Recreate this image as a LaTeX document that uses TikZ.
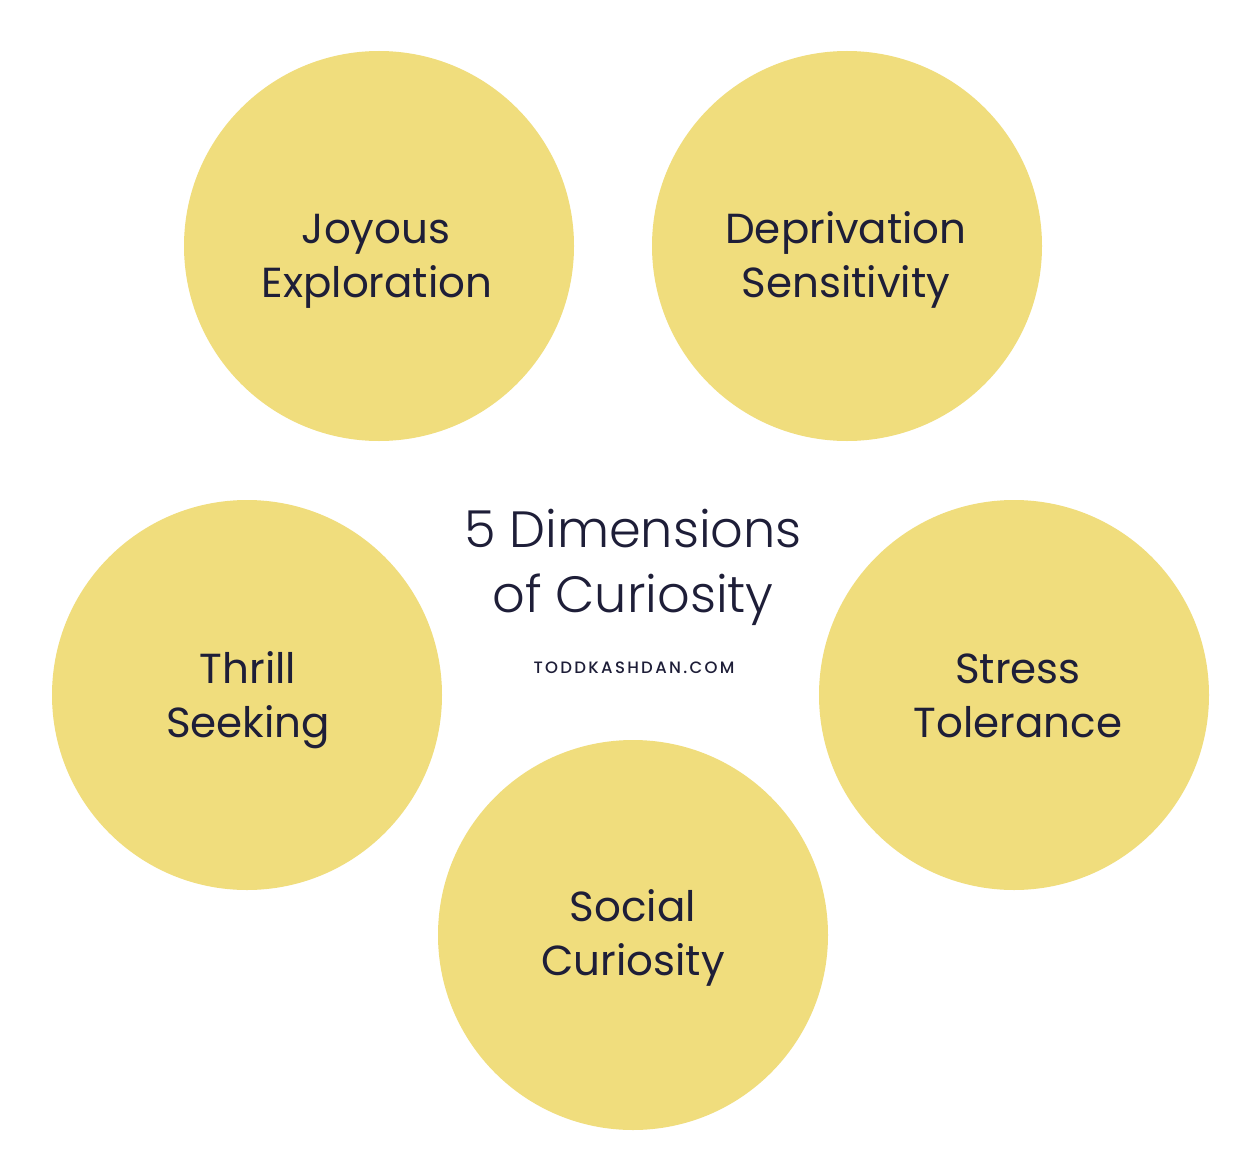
\documentclass[tikz,border=0pt]{standalone}
\usepackage{fontspec}
\setmainfont{Poppins}
\newfontfamily\titlefont{Poppins Light}
\newfontfamily\sitefont[LetterSpace=14]{Poppins Medium}
\definecolor{disc}{HTML}{F0DD7D}
\definecolor{ink}{HTML}{1E1E38}
\begin{document}
\begin{tikzpicture}[x=1pt,y=-1pt,
  dimdisc/.style={circle,fill=disc,draw=none,minimum size=390pt,inner sep=0pt},
  lbl/.style={anchor=base,text=ink,font=\fontsize{42}{50}\selectfont,inner sep=0pt},
  ttl/.style={anchor=base,text=ink,font=\titlefont\fontsize{51}{60}\selectfont,inner sep=0pt},
  web/.style={anchor=base,text=ink,font=\sitefont\fontsize{16.5}{20}\selectfont,inner sep=0pt}]
\useasboundingbox[fill=white] (0,0) rectangle (1245,1156);
\node[dimdisc] (joy) at (379,246) {};
\node[dimdisc] (dep) at (847,246) {};
\node[dimdisc] (thr) at (247,695) {};
\node[dimdisc] (str) at (1014,695) {};
\node[dimdisc] (soc) at (633,935) {};
\node[lbl] (joy1) at (376,243) {Joyous};
\node[lbl] (joy2) at (377,297) {Exploration};
\node[lbl] (dep1) at (846,243) {Deprivation};
\node[lbl] (dep2) at (846,297) {Sensitivity};
\node[lbl] (thr1) at (248,683) {Thrill};
\node[lbl] (thr2) at (248,737) {Seeking};
\node[lbl] (str1) at (1018,683) {Stress};
\node[lbl] (str2) at (1018,737) {Tolerance};
\node[lbl] (soc1) at (633,921) {Social};
\node[lbl] (soc2) at (633,975) {Curiosity};
\node[ttl] (t1) at (633,547) {5 Dimensions};
\node[ttl] (t2) at (633,612) {of Curiosity};
\node[web] (site) at (634,673) {TODDKASHDAN.COM};
\end{tikzpicture}
\end{document}
